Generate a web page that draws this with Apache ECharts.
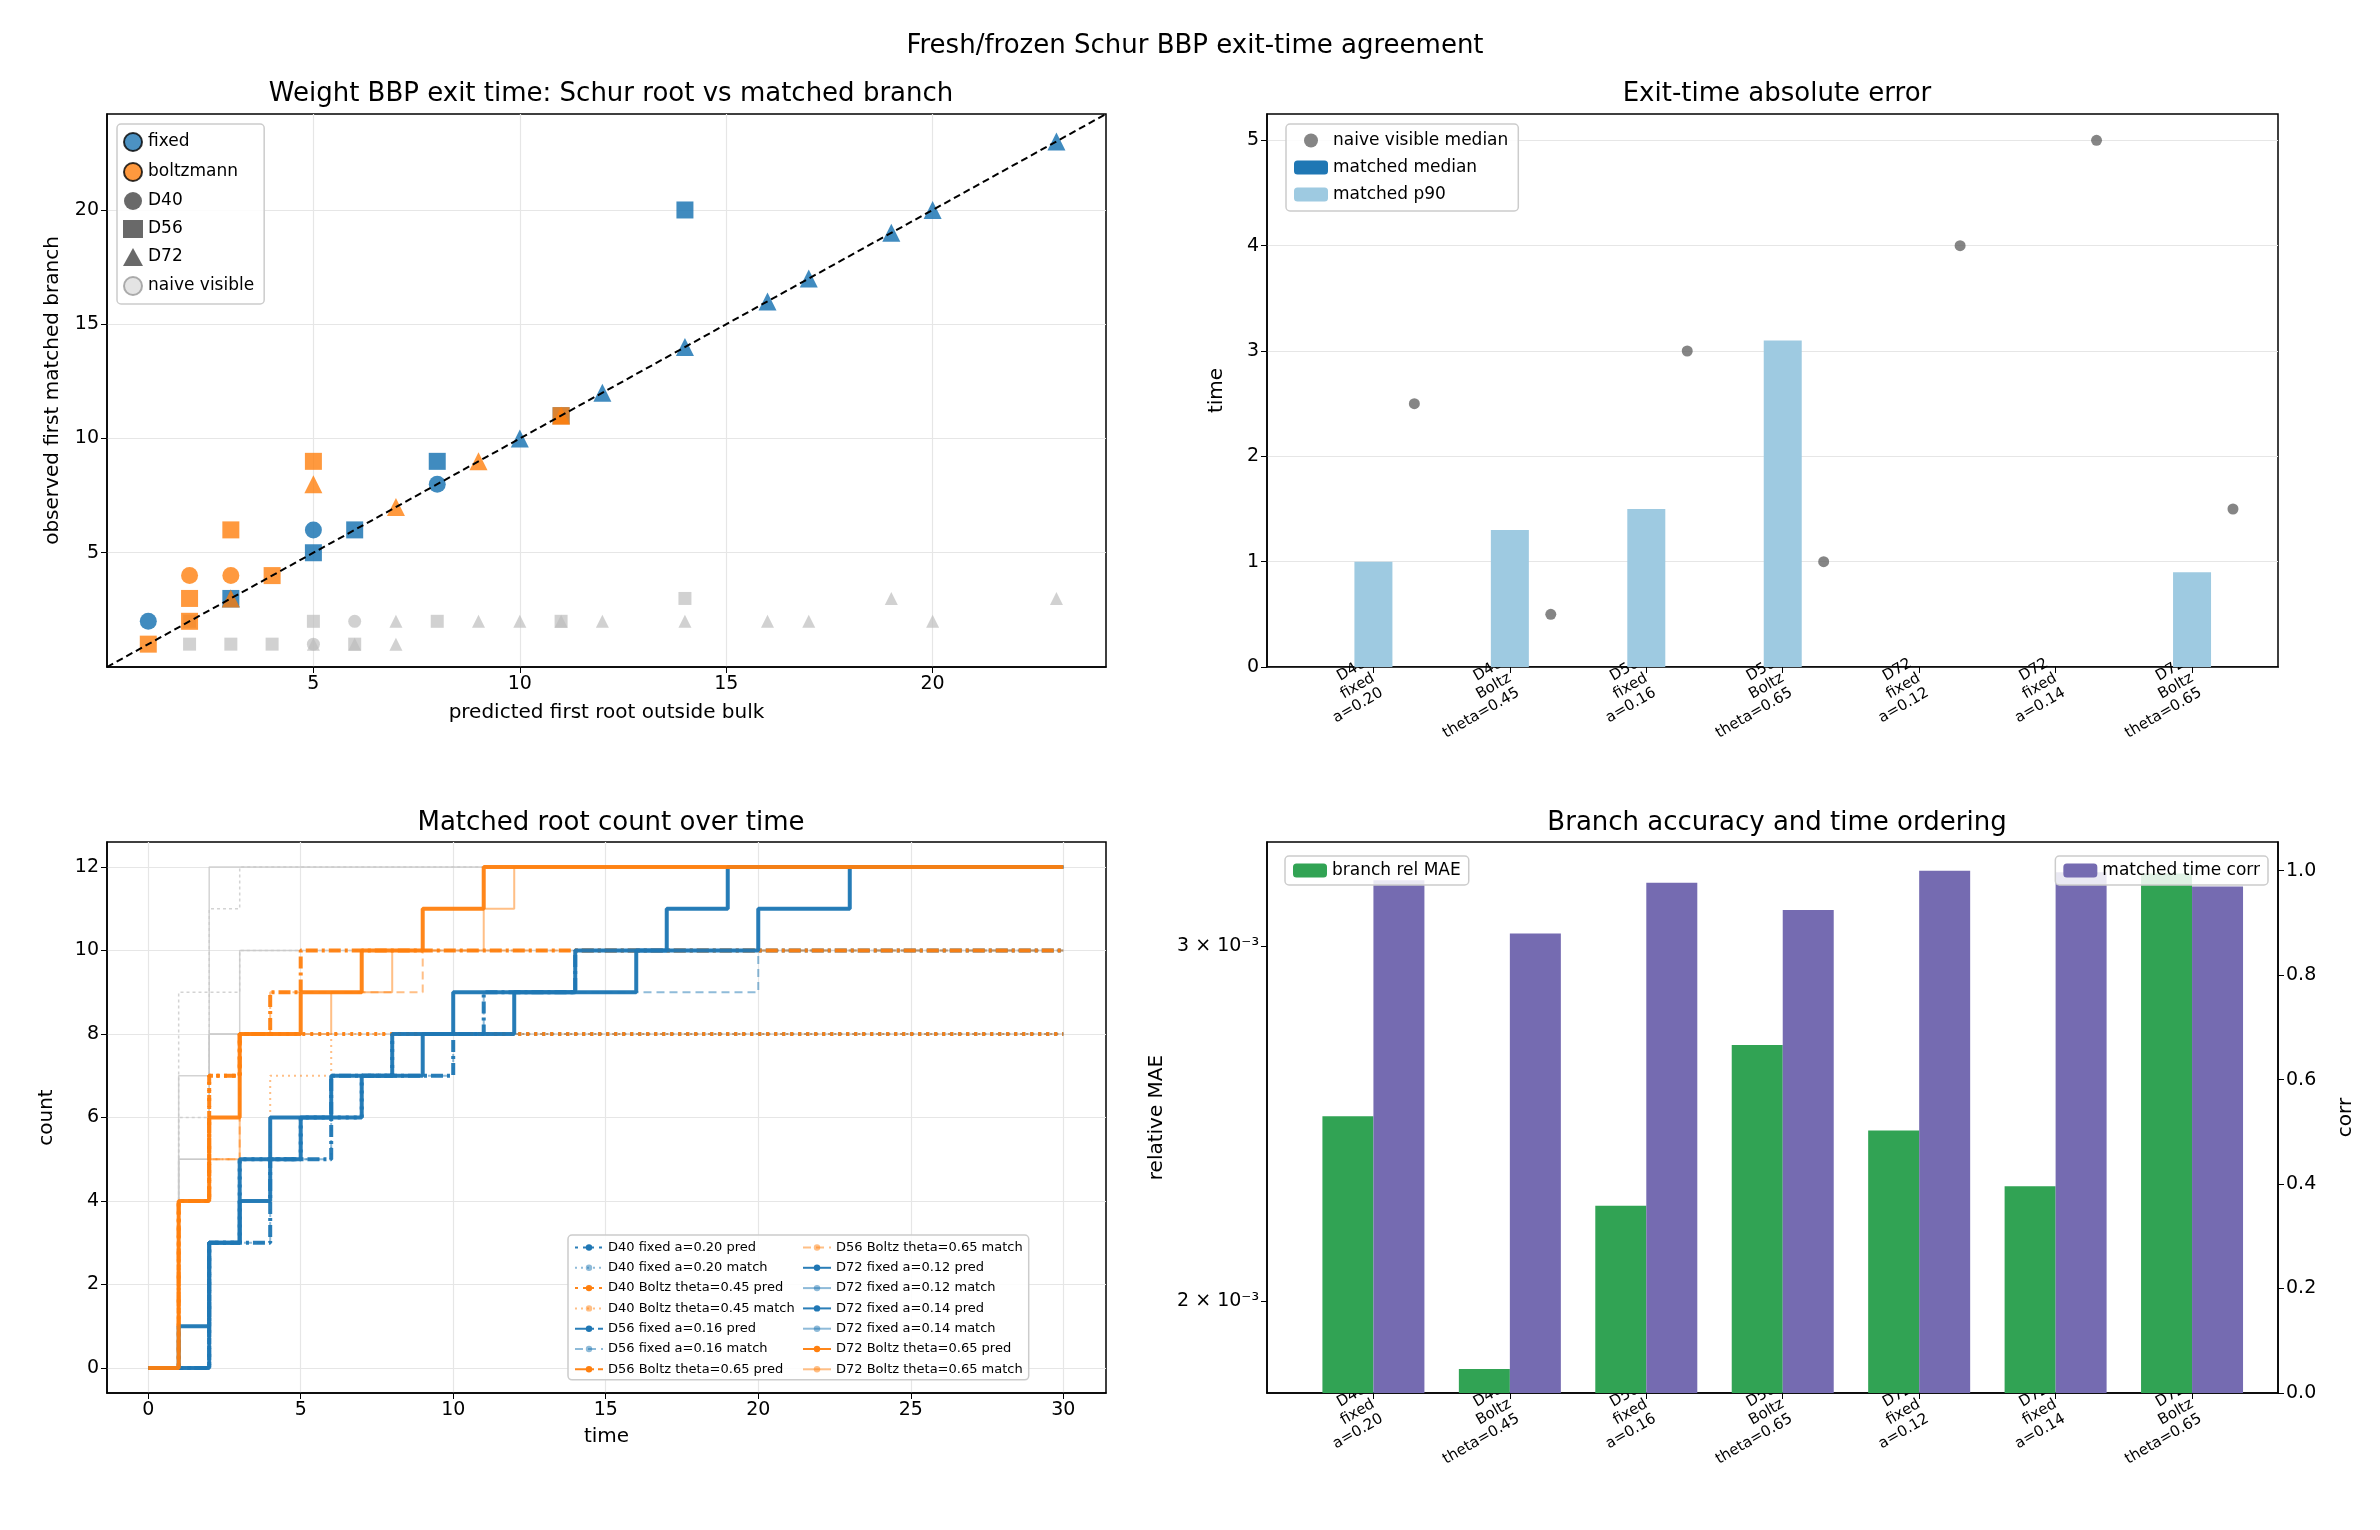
<!DOCTYPE html>
<html><head><meta charset="utf-8">
<script src="https://cdn.jsdelivr.net/npm/echarts@6/dist/echarts.min.js"></script>
<style>html,body{margin:0;background:#fff}#main{width:2380px;height:1530px}</style>
</head><body><div id="main"></div>
<script>
// ---- top-left scatter: [predicted, observed]
var fixedD40 = [[1,2],[5,6],[8,8]]
var boltzD40 = [[2,4],[3,4]]
var fixedD56 = [[3,3],[5,5],[6,6],[8,9],[11,11],[14,20]]
var boltzD56 = [[1,1],[2,2],[2,3],[3,6],[4,4],[5,9],[11,11]]
var fixedD72 = [[3,3],[10,10],[12,12],[14,14],[16,16],[17,17],[19,19],[20,20],[23,23]]
var boltzD72 = [[3,3],[5,8],[7,7],[9,9],[11,11]]
var naiveD40 = [[6,2],[5,1]]
var naiveD56 = [[2,1],[3,1],[4,1],[5,2],[8,2],[11,2],[14,3],[2,2],[6,1]]
var naiveD72 = [[7,2],[9,2],[10,2],[12,2],[14,2],[16,2],[17,2],[19,3],[20,2],[23,3],[7,1],[6,1],[5,1],[11,2]]

// ---- categories shared by right panels
var cats = ['D40\nfixed\na=0.20','D40\nBoltz\ntheta=0.45','D56\nfixed\na=0.16','D56\nBoltz\ntheta=0.65','D72\nfixed\na=0.12','D72\nfixed\na=0.14','D72\nBoltz\ntheta=0.65']
var naiveMedian = [2.5,0.5,3,1,4,5,1.5]
var matchedMedian = [0,0,0,0,0,0,0]
var matchedP90 = [1.0,1.3,1.5,3.1,0,0,0.9]
var relMAE = [2.47e-3,1.85e-3,2.23e-3,2.68e-3,2.43e-3,2.28e-3,3.26e-3]
var timeCorr = [0.982,0.88,0.977,0.925,1.0,0.997,0.97]

// ---- bottom-left step curves [time, count]
var stepNames = ['D40 fixed a=0.20 pred','D40 fixed a=0.20 match','D40 Boltz theta=0.45 pred','D40 Boltz theta=0.45 match',
  'D56 fixed a=0.16 pred','D56 fixed a=0.16 match','D56 Boltz theta=0.65 pred','D56 Boltz theta=0.65 match',
  'D72 fixed a=0.12 pred','D72 fixed a=0.12 match','D72 fixed a=0.14 pred','D72 fixed a=0.14 match',
  'D72 Boltz theta=0.65 pred','D72 Boltz theta=0.65 match']
var stepData = [
  [[0,0],[2,3],[3,5],[5,6],[7,7],[8,8],[30,8]],
  [[0,0],[2,3],[3,5],[6,6],[7,7],[8,8],[30,8]],
  [[0,0],[1,4],[2,7],[3,8],[30,8]],
  [[0,0],[1,4],[2,5],[4,7],[6,8],[30,8]],
  [[0,0],[2,3],[4,5],[6,7],[10,8],[11,9],[14,10],[30,10]],
  [[0,0],[2,3],[4,5],[6,7],[10,8],[11,9],[20,10],[30,10]],
  [[0,0],[1,4],[2,7],[3,8],[4,9],[5,10],[30,10]],
  [[0,0],[1,4],[2,5],[3,8],[4,9],[9,10],[30,10]],
  [[0,0],[2,3],[3,4],[4,6],[6,7],[8,8],[10,9],[14,10],[20,11],[23,12],[30,12]],
  [[0,0],[2,3],[3,4],[4,6],[6,7],[8,8],[10,9],[14,10],[20,11],[23,12],[30,12]],
  [[0,0],[1,1],[2,3],[3,5],[5,6],[7,7],[9,8],[12,9],[16,10],[17,11],[19,12],[30,12]],
  [[0,0],[1,1],[2,3],[3,5],[5,6],[7,7],[9,8],[12,9],[16,10],[17,11],[19,12],[30,12]],
  [[0,0],[1,4],[2,6],[3,8],[5,9],[7,10],[9,11],[11,12],[30,12]],
  [[0,0],[1,4],[2,5],[3,8],[6,9],[8,10],[11,11],[12,12],[30,12]]
]
var naiveSteps = [
  [[0,0],[1,7],[2,12],[30,12]],
  [[0,0],[1,9],[2,11],[3,12],[30,12]],
  [[0,0],[1,5],[2,8],[3,10],[30,10]],
  [[0,0],[1,6],[2,9],[3,10],[30,10]],
  [[0,0],[1,5],[2,8],[30,8]]
]

var BLUE = '#1f77b4', ORANGE = '#ff7f0e', GRID = '#e6e6e6'
var LOGMIN = 1.8e-3, LOGMAX = 3.38e-3
function lg(v) { return Math.log10(v / LOGMIN) }

var font = 'DejaVu Sans'
function axisBase(extra) {
  var a = {
    axisLine: {show: true, onZero: false, lineStyle: {color: '#000', width: 1.5}},
    axisTick: {show: true, length: 6, lineStyle: {color: '#000'}},
    axisLabel: {color: '#000', fontSize: 19, fontFamily: font},
    splitLine: {show: true, lineStyle: {color: GRID, width: 1.2}},
    nameTextStyle: {color: '#000', fontSize: 20, fontFamily: font},
    nameLocation: 'middle'
  }
  for (var k in extra) {
    if (typeof extra[k] === 'object' && a[k] && !Array.isArray(extra[k])) Object.assign(a[k], extra[k])
    else a[k] = extra[k]
  }
  return a
}
var catLabel = function (v) { return cats[Math.round(v)] || '' }

var grids = [
  {left: 107, top: 114, width: 999, height: 553},
  {left: 1267, top: 114, width: 1011, height: 553},
  {left: 107, top: 842, width: 999, height: 551},
  {left: 1267, top: 842, width: 1011, height: 551}
]
grids.forEach(function (g) { g.show = true; g.borderColor = '#000'; g.borderWidth = 1.5; g.containLabel = false })

var series = []
function sc(name, data, sym, color, size, op) {
  series.push({name: name, type: 'scatter', xAxisIndex: 0, yAxisIndex: 0, data: data, symbol: sym,
    symbolSize: size, itemStyle: {color: color, opacity: op}, z: 3})
}
// diagonal
series.push({name: 'diag', type: 'line', xAxisIndex: 0, yAxisIndex: 0, data: [[0,0],[24.2,24.2]], symbol: 'none',
  lineStyle: {color: '#000', type: [7,4], width: 2}, z: 5})
sc('nD40', naiveD40, 'circle', '#bdbdbd', 13, 0.7)
sc('nD56', naiveD56, 'rect', '#bdbdbd', 13, 0.7)
sc('nD72', naiveD72, 'triangle', '#bdbdbd', 13, 0.7)
sc('fD40', fixedD40, 'circle', BLUE, 17, 0.85)
sc('fD56', fixedD56, 'rect', BLUE, 17, 0.85)
sc('fD72', fixedD72, 'triangle', BLUE, 18, 0.85)
sc('bD40', boltzD40, 'circle', ORANGE, 17, 0.8)
sc('bD56', boltzD56, 'rect', ORANGE, 17, 0.8)
sc('bD72', boltzD72, 'triangle', ORANGE, 18, 0.8)
// legend proxies
function proxy(name, sym, color, border) {
  series.push({name: name, type: 'scatter', xAxisIndex: 0, yAxisIndex: 0, data: [], symbol: sym,
    itemStyle: {color: color, borderColor: border || color, borderWidth: border ? 1.5 : 0}})
}
proxy('fixed', 'circle', BLUE, '#000')
proxy('boltzmann', 'circle', ORANGE, '#000')
proxy('D40', 'circle', '#444')
proxy('D56', 'rect', '#444')
proxy('D72', 'triangle', '#444')
proxy('naive visible', 'circle', '#ddd', '#999')

// top-right
series.push({name: 'matched median', type: 'bar', xAxisIndex: 1, yAxisIndex: 1, barWidth: 38, barGap: '-100%',
  data: matchedMedian.map(function (v, i) { return [i, v] }), itemStyle: {color: BLUE}})
series.push({name: 'matched p90', type: 'bar', xAxisIndex: 1, yAxisIndex: 1, barWidth: 38, barGap: '-100%',
  data: matchedP90.map(function (v, i) { return [i, v] }), itemStyle: {color: '#9ecae1'}})
series.push({name: 'naive visible median', type: 'scatter', xAxisIndex: 1, yAxisIndex: 1, symbolSize: 11,
  data: naiveMedian.map(function (v, i) { return [i + 0.3, v] }), itemStyle: {color: '#666'}, z: 4})

// bottom-left
naiveSteps.forEach(function (d, i) {
  series.push({name: 'naive' + i, type: 'line', step: 'end', xAxisIndex: 2, yAxisIndex: 2, data: d, symbol: 'none',
    lineStyle: {color: '#c8c8c8', width: 1.5, type: i % 2 ? [3,3] : 'solid', opacity: 0.8}, z: 1})
})
stepNames.forEach(function (n, i) {
  var pred = i % 2 === 0
  var col = n.indexOf('Boltz') >= 0 ? ORANGE : BLUE
  var d = n.slice(0, 3)
  var type = d === 'D40' ? (pred ? [3,5] : [2,4]) : d === 'D56' ? (pred ? [12,4,3,4] : [8,5]) : 'solid'
  series.push({name: n, type: 'line', step: 'end', xAxisIndex: 2, yAxisIndex: 2, data: stepData[i], symbol: 'none',
    lineStyle: {color: col, width: pred ? 4 : 2, type: type, opacity: pred ? 0.95 : 0.5},
    itemStyle: {color: col, opacity: pred ? 1 : 0.5}, z: pred ? 3 : 2})
})

// bottom-right
series.push({name: 'branch rel MAE', type: 'bar', xAxisIndex: 3, yAxisIndex: 3, barWidth: 51, barGap: '0%',
  data: relMAE.map(function (v, i) { return [i, lg(v)] }), itemStyle: {color: '#31a354'}})
series.push({name: 'matched time corr', type: 'bar', xAxisIndex: 3, yAxisIndex: 4, barWidth: 51, barGap: '0%',
  data: timeCorr.map(function (v, i) { return [i, v] }), itemStyle: {color: '#756bb1'}})

var titleStyle = {color: '#000', fontSize: 26, fontWeight: 'normal', fontFamily: font}
function ttl(text, cx, top) { return {text: text, left: cx, top: top, textAlign: 'center', textStyle: titleStyle} }

var legendBox = {backgroundColor: 'rgba(255,255,255,0.85)', borderColor: '#ccc', borderWidth: 1.5, borderRadius: 4}

var option = {
  animation: false,
  backgroundColor: '#fff',
  title: [
    ttl('Fresh/frozen Schur BBP exit-time agreement', 1190, 28),
    ttl('Weight BBP exit time: Schur root vs matched branch', 606, 76),
    ttl('Exit-time absolute error', 1772, 76),
    ttl('Matched root count over time', 606, 805),
    ttl('Branch accuracy and time ordering', 1772, 805)
  ],
  grid: grids,
  legend: [
    Object.assign({data: ['fixed','boltzmann','D40','D56','D72','naive visible'], orient: 'vertical', left: 117, top: 124,
      itemWidth: 20, itemHeight: 18, itemGap: 10, padding: [8,10,8,6],
      textStyle: {fontSize: 17, fontFamily: font, color: '#000'}}, legendBox),
    Object.assign({data: ['naive visible median','matched median','matched p90'], orient: 'vertical', left: 1286, top: 124,
      itemWidth: 34, itemHeight: 14, itemGap: 10, padding: [8,10,8,8],
      textStyle: {fontSize: 17, fontFamily: font, color: '#000'}}, legendBox),
    Object.assign({data: stepNames, orient: 'vertical', left: 568, top: 1235, height: 150,
      itemWidth: 28, itemHeight: 8, itemGap: 7.3, padding: [6,6,4,6],
      textStyle: {fontSize: 13, fontFamily: font, color: '#000'}}, legendBox),
    Object.assign({data: ['branch rel MAE'], left: 1285, top: 856, itemWidth: 34, itemHeight: 14, padding: [6,8,6,8],
      textStyle: {fontSize: 17, fontFamily: font, color: '#000'}}, legendBox),
    Object.assign({data: ['matched time corr'], right: 112, top: 856, itemWidth: 34, itemHeight: 14, padding: [6,8,6,8],
      textStyle: {fontSize: 17, fontFamily: font, color: '#000'}}, legendBox)
  ],
  xAxis: [
    axisBase({type: 'value', gridIndex: 0, min: 0, max: 24.2, interval: 5, name: 'predicted first root outside bulk', nameGap: 36,
      axisLabel: {customValues: [5,10,15,20]}, axisTick: {customValues: [5,10,15,20]}}),
    axisBase({type: 'value', gridIndex: 1, min: -0.78, max: 6.63, splitLine: {show: false},
      axisLabel: {customValues: [0,1,2,3,4,5,6], formatter: catLabel, rotate: 30, fontSize: 15, lineHeight: 17, align: 'right', margin: 10},
      axisTick: {customValues: [0,1,2,3,4,5,6]}}),
    axisBase({type: 'value', gridIndex: 2, min: -1.35, max: 31.4, name: 'time', nameGap: 34,
      axisLabel: {customValues: [0,5,10,15,20,25,30]}, axisTick: {customValues: [0,5,10,15,20,25,30]}}),
    axisBase({type: 'value', gridIndex: 3, min: -0.78, max: 6.63, splitLine: {show: false},
      axisLabel: {customValues: [0,1,2,3,4,5,6], formatter: catLabel, rotate: 30, fontSize: 15, lineHeight: 17, align: 'right', margin: 10},
      axisTick: {customValues: [0,1,2,3,4,5,6]}})
  ],
  yAxis: [
    axisBase({type: 'value', gridIndex: 0, min: 0, max: 24.2, name: 'observed first matched branch', nameGap: 44,
      axisLabel: {customValues: [5,10,15,20]}, axisTick: {customValues: [5,10,15,20]}}),
    axisBase({type: 'value', gridIndex: 1, min: 0, max: 5.25, interval: 1, name: 'time', nameGap: 40,
      axisLabel: {customValues: [0,1,2,3,4,5]}, axisTick: {customValues: [0,1,2,3,4,5]}}),
    axisBase({type: 'value', gridIndex: 2, min: -0.6, max: 12.6, name: 'count', nameGap: 50,
      axisLabel: {customValues: [0,2,4,6,8,10,12]}, axisTick: {customValues: [0,2,4,6,8,10,12]}}),
    axisBase({type: 'value', gridIndex: 3, min: 0, max: lg(LOGMAX), name: 'relative MAE', nameGap: 100, splitLine: {show: false},
      axisLabel: {customValues: [lg(2e-3), lg(3e-3)], formatter: function (v) { return Math.abs(v - lg(2e-3)) < 1e-6 ? '2 × 10⁻³' : '3 × 10⁻³' }},
      axisTick: {customValues: [lg(2e-3), lg(3e-3)]}}),
    axisBase({type: 'value', gridIndex: 3, position: 'right', min: 0, max: 1.055, name: 'corr', nameGap: 58, splitLine: {show: false},
      axisLabel: {customValues: [0,0.2,0.4,0.6,0.8,1.0], formatter: function (v) { return v.toFixed(1) }},
      axisTick: {customValues: [0,0.2,0.4,0.6,0.8,1.0]}})
  ],
  series: series
}

var myChart = echarts.init(document.getElementById('main'))
myChart.setOption(option)
</script>
</body></html>
